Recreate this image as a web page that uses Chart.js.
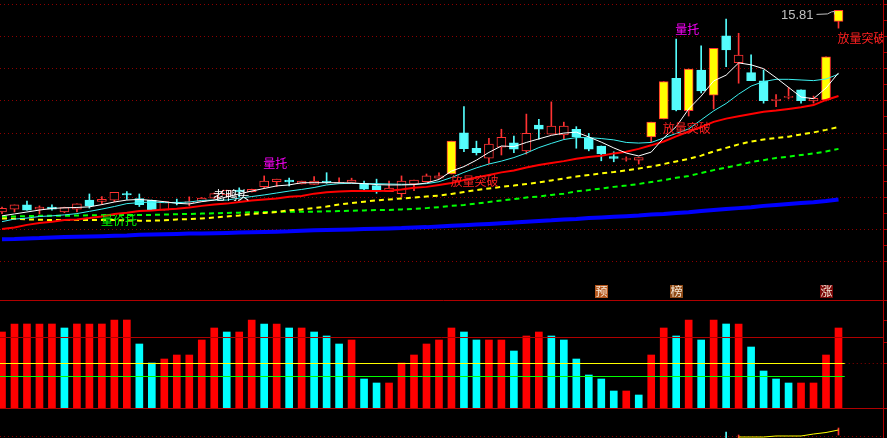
<!DOCTYPE html>
<html><head><meta charset="utf-8">
<script src="https://cdn.jsdelivr.net/npm/chart.js@4.4.1/dist/chart.umd.min.js"></script>
<style>
html,body{margin:0;padding:0;background:#000;overflow:hidden;}
canvas{display:block;}
</style></head><body>
<canvas id="c" width="887" height="438"></canvas>
<script>
// ---------- data ----------
const days = [...Array(68).keys()];
const opens = [9.55,9.64,9.77,9.64,9.70,9.55,9.64,9.92,9.88,9.92, 10.12,9.97,9.91,9.61,9.86,9.84,9.88,9.98,10.08,10.23, 10.18,10.34,10.49,10.54,10.42,10.41,10.51,10.44,10.47,10.44, 10.37,10.18,10.12,10.42,10.49,10.60,10.73,12.01,11.53,11.22, 11.56,11.70,11.45,12.25,11.97,11.94,12.12,11.84,11.60,11.27, 11.18,11.16,11.88,12.44,13.70,12.70,13.96,13.18,15.02,14.19, 13.88,13.62,13.01,13.11,13.34,13.00,13.03,15.47];
const highs = [9.70,9.77,9.89,9.74,9.77,9.70,9.80,10.11,10.03,10.16, 10.18,10.11,9.92,9.88,9.95,10.02,10.00,10.14,10.23,10.30, 10.26,10.67,10.57,10.60,10.51,10.65,10.77,10.61,10.60,10.51, 10.57,10.51,10.67,10.54,10.73,10.77,11.75,12.82,11.75,11.84, 12.12,11.91,12.59,12.43,12.97,12.34,12.20,11.99,11.60,11.42, 11.26,11.24,12.34,13.60,14.92,13.99,14.71,14.63,15.54,15.10, 14.43,13.96,13.20,13.42,13.34,13.15,14.37,15.81];
const lows = [9.50,9.55,9.61,9.49,9.61,9.53,9.55,9.67,9.80,9.87, 9.94,9.72,9.60,9.61,9.77,9.74,9.87,9.97,10.02,10.02, 10.17,10.29,10.34,10.36,10.42,10.41,10.44,10.43,10.47,10.21, 10.13,10.18,10.01,10.21,10.49,10.59,10.73,11.42,11.32,11.06, 11.32,11.39,11.35,11.81,11.97,11.81,11.53,11.45,11.14,11.11, 11.13,11.04,11.73,12.44,12.69,12.53,13.25,12.75,14.06,13.55, 13.63,12.93,12.82,13.06,12.93,12.93,13.00,15.26];
const closes = [9.66,9.77,9.61,9.70,9.64,9.69,9.80,9.74,9.94,10.16, 10.08,9.78,9.61,9.87,9.83,9.86,9.98,10.12,10.23,10.17, 10.25,10.51,10.57,10.48,10.51,10.51,10.47,10.47,10.54,10.26, 10.20,10.29,10.51,10.54,10.67,10.67,11.75,11.52,11.39,11.66, 11.87,11.50,11.99,12.12,12.22,12.22,11.89,11.50,11.35,11.21, 11.21,11.24,12.34,13.60,12.72,13.99,13.31,14.63,14.58,14.42, 13.63,13.01,13.05,13.14,13.01,13.08,14.37,15.81];
const signalDays = [36,52,53,55,57,66,67];

const ma5 = [9.43,9.49,9.55,9.61,9.66,9.68,9.69,9.71,9.78,9.86, 9.92,9.94,9.91,9.87,9.82,9.80,9.87,9.92,10.02,10.11, 10.20,10.28,10.36,10.39,10.46,10.46,10.46,10.46,10.45,10.43, 10.40,10.39,10.39,10.40,10.45,10.56,10.82,10.96,11.16,11.40, 11.60,11.58,11.71,11.82,11.93,12.00,12.03,11.88,11.72,11.54, 11.38,11.29,11.41,11.85,12.20,12.75,13.15,13.62,13.80,14.18, 14.12,14.00,13.72,13.42,13.12,13.07,13.40,13.87];
const ma10 = [9.25,9.33,9.36,9.41,9.43,9.46,9.50,9.57,9.64,9.72, 9.81,9.84,9.86,9.84,9.84,9.86,9.91,9.92,9.92,9.98, 10.03,10.08,10.14,10.20,10.25,10.31,10.39,10.43,10.44,10.43, 10.43,10.42,10.41,10.41,10.43,10.49,10.62,10.78,10.92,11.04, 11.13,11.24,11.38,11.55,11.68,11.80,11.86,11.86,11.83,11.79, 11.71,11.69,11.71,11.85,11.99,12.13,12.41,12.69,12.92,13.21, 13.46,13.60,13.67,13.67,13.65,13.63,13.68,13.83];
const ma20 = [9.02,9.07,9.15,9.21,9.25,9.30,9.32,9.36,9.41,9.49, 9.53,9.58,9.60,9.63,9.65,9.69,9.74,9.78,9.81,9.86, 9.91,9.94,9.97,10.02,10.05,10.12,10.16,10.19,10.20,10.20, 10.20,10.21,10.25,10.30,10.33,10.39,10.45,10.54,10.62,10.70, 10.78,10.84,10.93,11.01,11.07,11.13,11.20,11.26,11.30,11.37, 11.42,11.51,11.62,11.74,11.90,12.05,12.19,12.35,12.45,12.52, 12.59,12.66,12.70,12.75,12.80,12.87,13.03,13.15];
const ma30 = [9.35,9.34,9.32,9.31,9.30,9.30,9.30,9.30,9.30,9.30, 9.29,9.28,9.28,9.29,9.32,9.33,9.35,9.38,9.41,9.44, 9.49,9.52,9.55,9.60,9.63,9.67,9.72,9.78,9.83,9.87, 9.91,9.94,9.97,10.00,10.03,10.06,10.11,10.17,10.23,10.28, 10.33,10.37,10.42,10.47,10.53,10.59,10.65,10.70,10.75,10.79, 10.84,10.90,10.96,11.04,11.12,11.20,11.30,11.43,11.54,11.65, 11.74,11.80,11.85,11.89,11.96,12.02,12.10,12.19];
const ma60 = [9.40,9.41,9.42,9.43,9.43,9.43,9.44,9.45,9.45,9.46, 9.46,9.46,9.46,9.47,9.48,9.49,9.50,9.51,9.52,9.53, 9.54,9.55,9.56,9.56,9.56,9.56,9.57,9.58,9.59,9.60, 9.61,9.61,9.63,9.65,9.67,9.70,9.74,9.77,9.81,9.86, 9.91,9.95,10.00,10.03,10.08,10.12,10.19,10.23,10.28,10.33, 10.37,10.42,10.48,10.54,10.61,10.67,10.76,10.85,10.93,11.01, 11.10,11.16,11.23,11.27,11.32,11.37,11.43,11.51];
const ma250 = [8.70,8.71,8.73,8.74,8.76,8.77,8.78,8.79,8.80,8.81, 8.82,8.84,8.85,8.86,8.87,8.88,8.88,8.89,8.90,8.91, 8.92,8.93,8.94,8.95,8.97,8.98,8.99,9.00,9.01,9.02, 9.03,9.04,9.05,9.07,9.08,9.10,9.12,9.14,9.16,9.18, 9.20,9.22,9.25,9.27,9.29,9.32,9.33,9.36,9.38,9.40, 9.42,9.44,9.47,9.49,9.52,9.54,9.58,9.61,9.64,9.67, 9.70,9.74,9.77,9.80,9.83,9.85,9.89,9.94];

const volume = [19,21,21,21,21,20,21,21,21,22, 22,16,11.25,12.25,13.25,13.25,17,20,19,19, 22,21,21,20,20,19,18,16,17,7.25, 6.25,6.25,11.25,13.25,16,17,20,19,17,17, 17,14.25,18,19,18,17,12.25,8.25,7.25,4.25, 4.25,3.25,13.25,20,18,22,17,22,21,21, 15.25,9.25,7.25,6.25,6.25,6.25,13.25,20];
const volumeUp = [1,1,1,1,1,0,1,1,1,1, 1,0,0,1,1,1,1,1,0,1, 1,0,1,0,1,0,0,0,1,0, 0,1,1,1,1,1,1,0,0,1, 1,0,1,1,0,0,0,0,0,0, 1,0,1,1,0,1,0,1,0,1, 0,0,0,0,1,1,1,1];
const volTopLevel = 27, volMidLevel = 17.75, volYellowLevel = 11.25, volGreenLevel = 8, volBaseLevel = 0;
const volTicks = [22, 16.4, 11.25];

const lowerIdx = [59,60,61,62,63,64,65,66,67];
const lowerLine = [0.5,0.5,0.5,1,1,1,2,2.75,4];
const lowerBarIdx = [58,59,67];
const lowerBarLo = [0,0,1.5];
const lowerBarHi = [3,1.5,5];
const lowerBarUp = [0,1,1];
const lowerGridLevel = 1;

const priceGrid = [8,9,10,11,12,13,14,15,16];
const priceTicks = [8,8.5,9,9.5,10,10.5,11,11.5,12,12.5,13,13.5,14,14.5,15,15.5,16];

const notes = [
  {text:'量托', i:21, top:11.23, color:'#FF00FF'},
  {text:'量托', i:54, top:15.42, color:'#FF00FF'},
  {text:'老鸭头', i:17, top:10.26, color:'#FFFFFF'},
  {text:'量价托', i:8, top:9.46, color:'#00FF00'},
  {text:'放量突破', i:36, top:10.67, color:'#FF2020'},
  {text:'放量突破', i:53, top:12.34, color:'#FF2020'},
  {text:'放量突破', i:67, top:15.14, color:'#FF2020'}
];
const tags = [
  {text:'预', i:48, bg:'#B4561C'},
  {text:'榜', i:54, bg:'#8E4A16'},
  {text:'涨', i:66, bg:'#7A0808'}
];
const tagTop = 7.28;

// ---------- styling ----------
const RED = '#FF3232', CYAN = '#54FCFC', YEL = '#FFFF00';
const isUp = i => closes[i] >= opens[i];
const isSig = i => signalDays.includes(i);
const edgeCol = i => (isSig(i) || isUp(i)) ? RED : CYAN;
const fillCol = i => isSig(i) ? YEL : (isUp(i) ? '#000000' : CYAN);
const xy = arr => arr.map((v,i)=>({x:days[i], y:v}));
const SP = 12.485, X0 = 2, PLOT_W = 883;
const xMin = -X0/SP, xMax = xMin + PLOT_W/SP;
const GRID = '#8C0000', AXIS = '#B00000';

function hline(ctx, x1, x2, y, color, dash) {
  const yy = Math.round(y) + 0.5;
  ctx.save(); ctx.strokeStyle = color; ctx.lineWidth = 1; ctx.setLineDash(dash || []);
  ctx.beginPath(); ctx.moveTo(x1, yy); ctx.lineTo(x2, yy); ctx.stroke(); ctx.restore();
}

const overlay = {
  id: 'overlay',
  beforeDatasetsDraw(chart) {
    const {ctx, scales:{x, yv, yb}} = chart;
    const xEnd = x.getPixelForValue(67.5);
    hline(ctx, xEnd, 883, yv.getPixelForValue(volYellowLevel), GRID, [1,3]);
    hline(ctx, 0, 883, yb.getPixelForValue(lowerGridLevel), GRID, [1,3]);
  },
  afterDatasetsDraw(chart) {
    const {ctx, chartArea, scales:{x, y, yv}} = chart;
    const xEnd = x.getPixelForValue(67.5);
    hline(ctx, 0, xEnd, yv.getPixelForValue(volYellowLevel), '#FFFF00');
    hline(ctx, 0, xEnd, yv.getPixelForValue(volGreenLevel), '#00FF00');
    hline(ctx, 0, 887, yv.getPixelForValue(volTopLevel), AXIS);
    hline(ctx, 0, 883, yv.getPixelForValue(volMidLevel), AXIS);
    hline(ctx, 0, 887, yv.getPixelForValue(volBaseLevel), AXIS);
    ctx.save(); ctx.strokeStyle = AXIS; ctx.lineWidth = 1;
    volTicks.forEach(v => { const yy = Math.round(yv.getPixelForValue(v)) + 0.5; ctx.beginPath(); ctx.moveTo(883, yy); ctx.lineTo(887, yy); ctx.stroke(); });
    ctx.restore();
    // notes (clipped to plot area)
    ctx.save();
    ctx.beginPath(); ctx.rect(chartArea.left, chartArea.top, chartArea.right - chartArea.left, chartArea.bottom - chartArea.top); ctx.clip();
    ctx.font = '12px "Noto Sans CJK SC"'; ctx.textBaseline = 'top'; ctx.textAlign = 'left';
    notes.forEach(n => { ctx.fillStyle = n.color; ctx.fillText(n.text, x.getPixelForValue(n.i) - 1, y.getPixelForValue(n.top)); });
    // tags
    tags.forEach(t => {
      const cx = x.getPixelForValue(t.i), ty = Math.round(y.getPixelForValue(tagTop));
      const lx = Math.round(cx - 6.5);
      ctx.fillStyle = t.bg; ctx.fillRect(lx, ty, 13, 13);
      ctx.fillStyle = '#F4E6D6'; ctx.textAlign = 'center';
      ctx.fillText(t.text, lx + 6.5, ty);
    });
    // high marker
    const li = days.length - 1;
    const hx = x.getPixelForValue(li), hy = y.getPixelForValue(highs[li]);
    ctx.fillStyle = '#C0C0C0'; ctx.textAlign = 'right'; ctx.font = '13px "Liberation Sans"';
    ctx.fillText(highs[li].toFixed(2), hx - 25, hy - 1);
    ctx.strokeStyle = '#C0C0C0'; ctx.lineWidth = 1;
    ctx.beginPath(); ctx.moveTo(hx - 22, hy + 4); ctx.lineTo(hx - 11, hy + 3.5); ctx.lineTo(hx - 7, hy + 1.5); ctx.lineTo(hx - 4, hy + 1); ctx.lineTo(hx - 4, hy + 4); ctx.stroke();
    ctx.restore();
  }
};

const lineDs = (label, arr, color, width, dash, order) => ({
  type:'line', label, data: xy(arr), yAxisID:'y', borderColor: color, borderWidth: width,
  borderDash: dash || [], pointRadius: 0, tension: 0, order
});

new Chart(document.getElementById('c'), {
  type: 'bar',
  data: {
    datasets: [
      lineDs('MA5', ma5, '#FFFFFF', 1, null, 1),
      lineDs('MA10', ma10, '#3CF0F0', 1, null, 2),
      lineDs('MA20', ma20, '#FF0000', 2, null, 3),
      lineDs('MA30', ma30, '#FFFF00', 2, [5,4], 3),
      lineDs('MA60', ma60, '#00FF00', 2, [5,4], 3),
      lineDs('MA250', ma250, '#0000FF', 4, null, 3),
      { type:'bar', label:'body', data: days.map(i=>({x:i, y:[opens[i], closes[i]]})), yAxisID:'y',
        backgroundColor: days.map(fillCol), borderColor: days.map(edgeCol), borderWidth: 1, borderSkipped: false,
        barThickness: 9, grouped: false, minBarLength: 1, order: 5 },
      { type:'bar', label:'wick', data: days.map(i=>({x:i, y:[lows[i], highs[i]]})), yAxisID:'y',
        backgroundColor: days.map(edgeCol), barThickness: 1, grouped: false, order: 6 },
      { type:'bar', label:'vol', data: xy(volume), yAxisID:'yv',
        backgroundColor: volumeUp.map(u => u ? '#FF0000' : '#00FFFF'), barThickness: 7, grouped: false, order: 7 },
      { type:'line', label:'lower', data: lowerIdx.map((d,k)=>({x:d, y:lowerLine[k]})), yAxisID:'yb',
        borderColor:'#FFFF00', borderWidth: 1, pointRadius: 0, order: 1 },
      { type:'bar', label:'lowerBar', data: lowerBarIdx.map((d,k)=>({x:d, y:[lowerBarLo[k], lowerBarHi[k]]})), yAxisID:'yb',
        backgroundColor: lowerBarUp.map(u => u ? '#FF3232' : '#54FCFC'), barThickness: 1, grouped: false, order: 2 }
    ]
  },
  options: {
    responsive: false, animation: false, devicePixelRatio: 1, events: [],
    layout: { padding: 0 },
    plugins: { legend: { display: false }, tooltip: { enabled: false } },
    scales: {
      x: { type:'linear', min: xMin, max: xMax, display: false, offset: false },
      y: { position:'right', min: 2.5311, max: 16.1335,
           afterBuildTicks: s => { s.ticks = priceTicks.map(v => ({value: v})); },
           ticks: { display: false },
           grid: { color: c => (c.tick && priceGrid.includes(c.tick.value)) ? GRID : 'rgba(0,0,0,0)',
                   tickColor: AXIS, tickLength: 4, drawTicks: true, lineWidth: 1 },
           border: { display: true, color: AXIS, dash: [1,3] } },
      yv: { display: false, min: -7.5, max: 102 },
      yb: { display: false, min: 0, max: 219 }
    }
  },
  plugins: [overlay]
});
</script>
</body></html>
